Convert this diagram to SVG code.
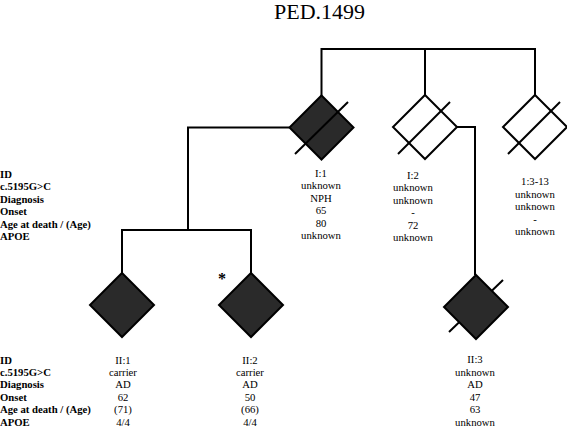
<svg xmlns="http://www.w3.org/2000/svg" width="567" height="427" viewBox="0 0 567 427">
<style>
.ln{fill:none;stroke:#000;stroke-width:2}
.fd{fill:#2a2a2a;stroke:#000;stroke-width:2;stroke-linejoin:miter}
.op{fill:#fff;stroke:#000;stroke-width:2}
.sl{stroke:#000;stroke-width:2}
text{font-family:"Liberation Serif","Times New Roman",serif;font-size:10.7px;fill:#000}
.lb{font-weight:bold}
.c{text-anchor:middle}
.t{font-size:22px;text-anchor:middle}
</style>
<rect width="567" height="427" fill="#fff"/>
<text class="t" x="319.5" y="19">PED.1499</text>
<g id="connectors">
<path class="ln" d="M321.5 96 V49 H535 V95 M425 49 V95"/>
<path class="ln" d="M289.5 127.5 H188 V230 M121 230 H252 M122 229 V273 M251 229 V273"/>
<path class="ln" d="M457 127 H475 V275"/>
</g>
<g id="I1">
<polygon class="fd" points="321.5,95.5 353.5,127.5 321.5,159.5 289.5,127.5"/>
<line class="sl" x1="295" y1="154" x2="348" y2="102"/>
</g>
<g id="I2">
<polygon class="op" points="425,95 457,127 425,159 393,127"/>
<line class="sl" x1="398" y1="154" x2="450" y2="102"/>
</g>
<g id="I3">
<polygon class="op" points="535,95 567,127 535,159 503,127"/>
<line class="sl" x1="508" y1="154" x2="560" y2="102"/>
</g>
<g id="II1">
<polygon class="fd" points="122,273 154,305 122,337 90,305"/>
</g>
<g id="II2">
<polygon class="fd" points="251,273 283,305 251,337 219,305"/>
<text class="lb" x="222" y="284" style="font-size:16px" text-anchor="middle">*</text>
</g>
<g id="II3">
<line class="sl" x1="449" y1="332" x2="503" y2="280"/>
<polygon class="fd" points="476,275 508,307 476,339 444,307"/>
</g>
<g id="labels-top">
<text class="lb" x="0" y="177.5">ID</text>
<text class="lb" x="0" y="190">c.5195G&gt;C</text>
<text class="lb" x="0" y="202.5">Diagnosis</text>
<text class="lb" x="0" y="215">Onset</text>
<text class="lb" x="0" y="227.5">Age at death / (Age)</text>
<text class="lb" x="0" y="240">APOE</text>
</g>
<g id="I1-text">
<text class="c" x="321" y="176.5">I:1</text>
<text class="c" x="321" y="189">unknown</text>
<text class="c" x="321" y="201.5">NPH</text>
<text class="c" x="321" y="214">65</text>
<text class="c" x="321" y="226.5">80</text>
<text class="c" x="321" y="239">unknown</text>
</g>
<g id="I2-text">
<text class="c" x="413" y="178.5">I:2</text>
<text class="c" x="413" y="191">unknown</text>
<text class="c" x="413" y="203.5">unknown</text>
<text class="c" x="413" y="216">-</text>
<text class="c" x="413" y="228.5">72</text>
<text class="c" x="413" y="241">unknown</text>
</g>
<g id="I3-text">
<text class="c" x="535" y="185">1:3-13</text>
<text class="c" x="535" y="197.5">unknown</text>
<text class="c" x="535" y="210">unknown</text>
<text class="c" x="535" y="222.5">-</text>
<text class="c" x="535" y="235">unknown</text>
</g>
<g id="labels-bottom">
<text class="lb" x="0" y="363.5">ID</text>
<text class="lb" x="0" y="375.9">c.5195G&gt;C</text>
<text class="lb" x="0" y="388.3">Diagnosis</text>
<text class="lb" x="0" y="400.7">Onset</text>
<text class="lb" x="0" y="413.1">Age at death / (Age)</text>
<text class="lb" x="0" y="425.5">APOE</text>
</g>
<g id="II1-text">
<text class="c" x="123" y="363.5">II:1</text>
<text class="c" x="123" y="375.9">carrier</text>
<text class="c" x="123" y="388.3">AD</text>
<text class="c" x="123" y="400.7">62</text>
<text class="c" x="123" y="413.1">(71)</text>
<text class="c" x="123" y="425.5">4/4</text>
</g>
<g id="II2-text">
<text class="c" x="250" y="363.5">II:2</text>
<text class="c" x="250" y="375.9">carrier</text>
<text class="c" x="250" y="388.3">AD</text>
<text class="c" x="250" y="400.7">50</text>
<text class="c" x="250" y="413.1">(66)</text>
<text class="c" x="250" y="425.5">4/4</text>
</g>
<g id="II3-text">
<text class="c" x="475" y="362.5">II:3</text>
<text class="c" x="475" y="375.9">unknown</text>
<text class="c" x="475" y="388.3">AD</text>
<text class="c" x="475" y="400.7">47</text>
<text class="c" x="475" y="413.1">63</text>
<text class="c" x="475" y="425.5">unknown</text>
</g>
</svg>
